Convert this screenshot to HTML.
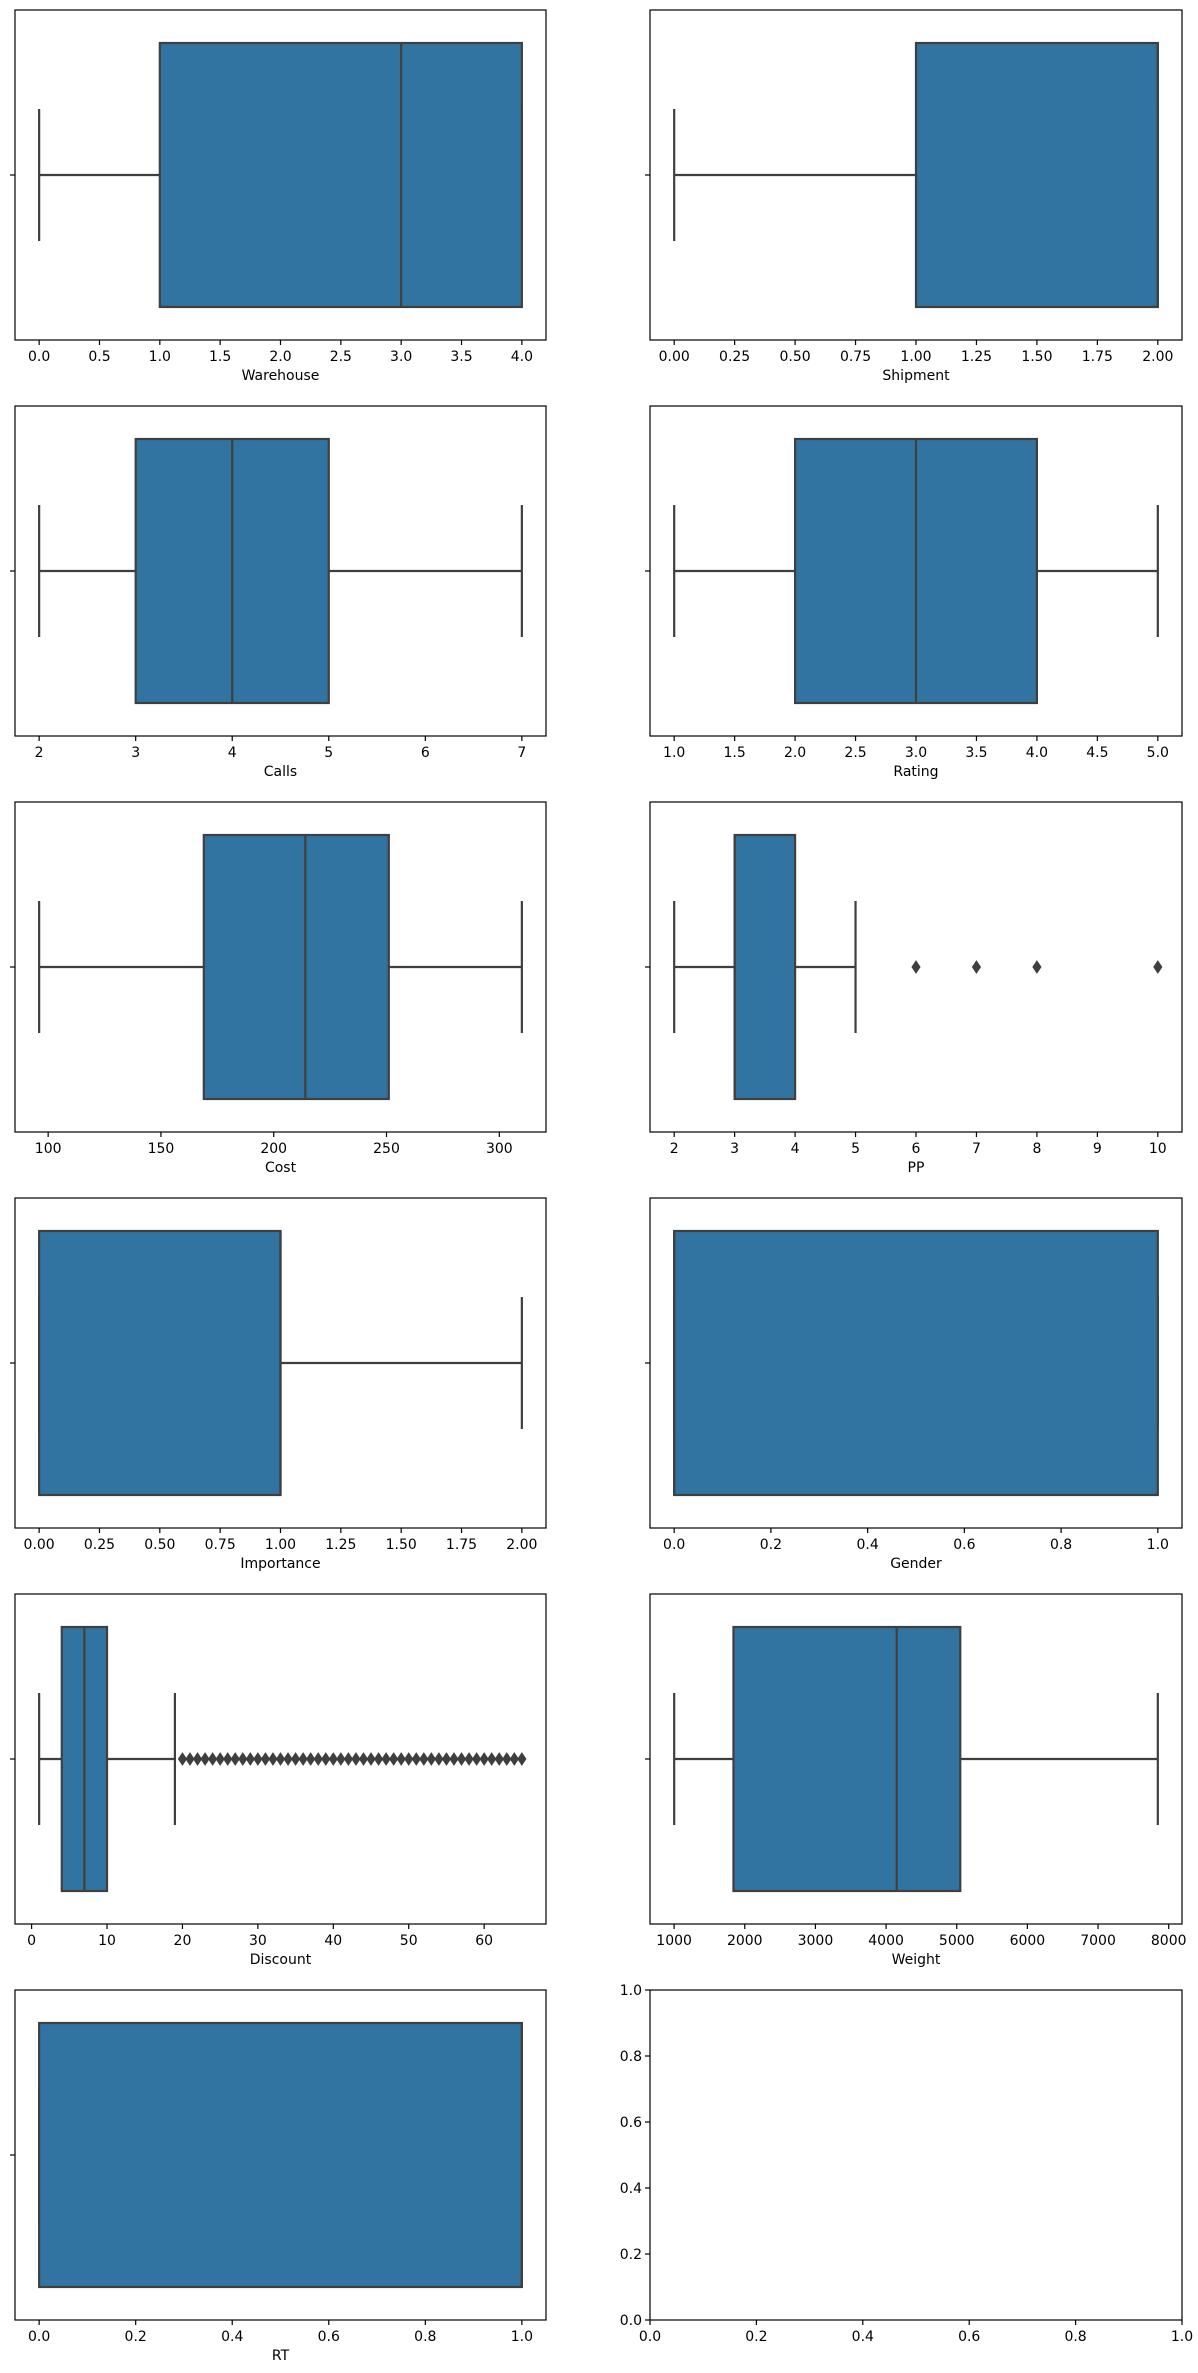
<!DOCTYPE html>
<html><head><meta charset="utf-8"><style>
html,body{margin:0;padding:0;background:#fff;}
svg{display:block;font-family:"DejaVu Sans","Liberation Sans",sans-serif;}
</style></head><body>
<svg id="fig" width="1198" height="2373" viewBox="0 0 1198 2373" xmlns="http://www.w3.org/2000/svg"></svg>
<script>
const names = ["Warehouse","Shipment","Calls","Rating","Cost","PP","Importance","Gender","Discount","Weight","RT"];
const whisLo = [0, 0, 2, 1, 96, 2, 0, 0, 1, 1001, 0];
const q1s    = [1, 1, 3, 2, 169, 3, 0, 0, 4, 1840, 0];
const meds   = [3, 2, 4, 3, 214, 3, 1, 0, 7, 4150, 1];
const q3s    = [4, 2, 5, 4, 251, 4, 1, 1, 10, 5050, 1];
const whisHi = [4, 2, 7, 5, 310, 5, 2, 1, 19, 7846, 1];
const flierPP = [6, 7, 8, 10];
const flierDiscount = [20,21,22,23,24,25,26,27,28,29,30,31,32,33,34,35,36,37,38,39,40,41,42,43,44,45,46,47,48,49,50,51,52,53,54,55,56,57,58,59,60,61,62,63,64,65];
const fliers = [[],[],[],[],[],flierPP,[],[],flierDiscount,[],[]];
const tickLabels = [
 ["0.0","0.5","1.0","1.5","2.0","2.5","3.0","3.5","4.0"],
 ["0.00","0.25","0.50","0.75","1.00","1.25","1.50","1.75","2.00"],
 ["2","3","4","5","6","7"],
 ["1.0","1.5","2.0","2.5","3.0","3.5","4.0","4.5","5.0"],
 ["100","150","200","250","300"],
 ["2","3","4","5","6","7","8","9","10"],
 ["0.00","0.25","0.50","0.75","1.00","1.25","1.50","1.75","2.00"],
 ["0.0","0.2","0.4","0.6","0.8","1.0"],
 ["0","10","20","30","40","50","60"],
 ["1000","2000","3000","4000","5000","6000","7000","8000"],
 ["0.0","0.2","0.4","0.6","0.8","1.0"]
];
const emptyTicks = ["0.0","0.2","0.4","0.6","0.8","1.0"];

const NS = "http://www.w3.org/2000/svg";
const svg = document.getElementById("fig");
function mk(tag, attrs, parent){
  const e = document.createElementNS(NS, tag);
  for (const k in attrs) e.setAttribute(k, attrs[k]);
  (parent||svg).appendChild(e);
  return e;
}
const LINE = "#3f3f3f", FILL = "#3274a1";

function axisPos(i){
  const col = i % 2, row = Math.floor(i / 2);
  return {x0: col ? 650 : 15, w: col ? 532 : 531, y0: 10 + 396*row, h: 330};
}

for (let i = 0; i < names.length; i++){
  const p = axisPos(i);
  const g = mk("g", {});
  
  
  const fl = fliers[i];
  let lo = Math.min(whisLo[i], ...(fl.length ? fl : [whisLo[i]]));
  let hi = Math.max(whisHi[i], ...(fl.length ? fl : [whisHi[i]]));
  const pad = (hi - lo) * 0.05;
  const dmin = lo - pad, dmax = hi + pad;
  const X = v => p.x0 + (v - dmin) / (dmax - dmin) * p.w;
  const Y = v => p.y0 + (v + 0.5) * p.h;
  const wl = mk("line", {x1:X(whisLo[i]), x2:X(q1s[i]), y1:Y(0), y2:Y(0), stroke:LINE, "stroke-width":2.2}, g);
  
  
  const wh = mk("line", {x1:X(q3s[i]), x2:X(whisHi[i]), y1:Y(0), y2:Y(0), stroke:LINE, "stroke-width":2.2}, g);
  
  
  [whisLo[i], whisHi[i]].forEach(v => {
    const c = mk("line", {x1:X(v), x2:X(v), y1:Y(-0.2), y2:Y(0.2), stroke:LINE, "stroke-width":2.2}, g);
    
    
  });
  const bx = mk("rect", {x:X(q1s[i]), y:Y(-0.4), width:Math.max(0, X(q3s[i]) - X(q1s[i])), height:Y(0.4)-Y(-0.4), fill:FILL, stroke:LINE, "stroke-width":2.2}, g);
  
  
  const md = mk("line", {x1:X(meds[i]), x2:X(meds[i]), y1:Y(-0.4), y2:Y(0.4), stroke:LINE, "stroke-width":2.2}, g);
  
  
  fl.forEach(v => {
    const x = X(v), y = Y(0);
    const d = mk("polygon", {points:`${x},${y-6} ${x+4},${y} ${x},${y+6} ${x-4},${y}`, fill:LINE, stroke:LINE, "stroke-width":1}, g);
    
    
  });
  const fr = mk("rect", {x:p.x0, y:p.y0, width:p.w, height:p.h, fill:"none", stroke:"#000", "stroke-width":1.2}, g);
  
  
  mk("line", {x1:p.x0-5, x2:p.x0, y1:Y(0), y2:Y(0), stroke:"#000", "stroke-width":1.2}, g);
  tickLabels[i].forEach(t => {
    const x = X(parseFloat(t));
    mk("line", {x1:x, x2:x, y1:p.y0+p.h, y2:p.y0+p.h+5, stroke:"#000", "stroke-width":1.2}, g);
    const tx = mk("text", {x:x, y:p.y0+p.h+21, "font-size":14, "text-anchor":"middle", fill:"#000"}, g);
    tx.textContent = t;
    
    
  });
  const xl = mk("text", {x:p.x0+p.w/2, y:p.y0+p.h+40, "font-size":14, "text-anchor":"middle", fill:"#000"}, g);
  xl.textContent = names[i];
  
  
}

(function(){
  const p = axisPos(11);
  const g = mk("g", {});
  
  
  mk("rect", {x:p.x0, y:p.y0, width:p.w, height:p.h, fill:"none", stroke:"#000", "stroke-width":1.2}, g);
  emptyTicks.forEach(t => {
    const v = parseFloat(t);
    const x = p.x0 + v * p.w, y = p.y0 + p.h - v * p.h;
    mk("line", {x1:x, x2:x, y1:p.y0+p.h, y2:p.y0+p.h+5, stroke:"#000", "stroke-width":1.2}, g);
    const tx = mk("text", {x:x, y:p.y0+p.h+21, "font-size":14, "text-anchor":"middle", fill:"#000"}, g);
    tx.textContent = t;
    
    
    mk("line", {x1:p.x0-5, x2:p.x0, y1:y, y2:y, stroke:"#000", "stroke-width":1.2}, g);
    const ty = mk("text", {x:p.x0-8, y:y+5, "font-size":14, "text-anchor":"end", fill:"#000"}, g);
    ty.textContent = t;
    
    
  });
})();
</script>
</body></html>
